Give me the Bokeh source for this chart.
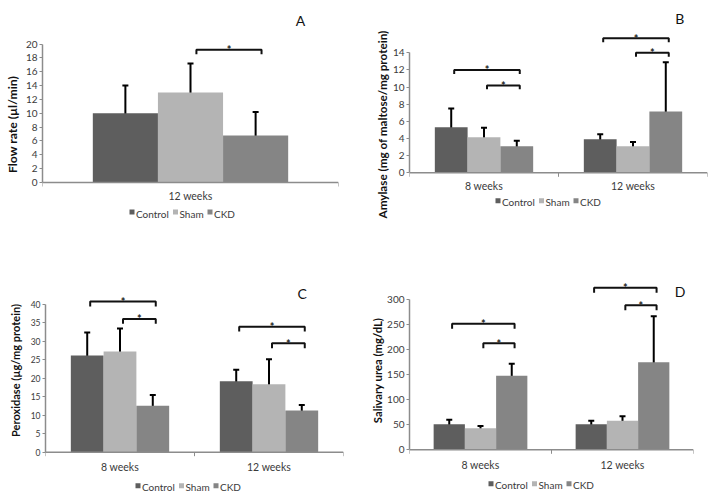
from bokeh.plotting import figure
from bokeh.layouts import column, row
from bokeh.models import (Range1d, FixedTicker, Label, ColumnDataSource, Whisker, TeeHead)
from bokeh.core.properties import value
from bokeh.embed import file_html
from bokeh.resources import INLINE

FONT = "Lato"
groups = ["Control", "Sham", "CKD"]
group_colors = ["#5e5e5e", "#b4b4b4", "#858585"]
legend_text_px = [33, 24, 20]   # approximate label widths, for legend spacing

# ---- Panel A : flow rate ----
a_categories = ["12 weeks"]
a_control = [10.0]
a_control_lo = [6.1]
a_control_hi = [14.0]
a_sham = [13.0]
a_sham_lo = [8.8]
a_sham_hi = [17.2]
a_ckd = [6.8]
a_ckd_lo = [3.2]
a_ckd_hi = [10.2]
a_yticks = [0, 2, 4, 6, 8, 10, 12, 14, 16, 18, 20]
a_sig = [(0, 1, 2, 19.2)]

# ---- Panel B : amylase ----
b_categories = ["8 weeks", "12 weeks"]
b_control = [5.3, 3.9]
b_control_lo = [3.1, 3.2]
b_control_hi = [7.5, 4.5]
b_sham = [4.15, 3.1]
b_sham_lo = [3.0, 2.6]
b_sham_hi = [5.25, 3.6]
b_ckd = [3.1, 7.15]
b_ckd_lo = [2.4, 1.4]
b_ckd_hi = [3.75, 12.9]
b_yticks = [0, 2, 4, 6, 8, 10, 12, 14]
b_sig = [(0, 0, 2, 12.0), (0, 1, 2, 10.2), (1, 0, 2, 15.7), (1, 1, 2, 14.0)]

# ---- Panel C : peroxidase ----
c_categories = ["8 weeks", "12 weeks"]
c_control = [26.2, 19.2]
c_control_lo = [20.2, 16.1]
c_control_hi = [32.4, 22.3]
c_sham = [27.3, 18.4]
c_sham_lo = [21.1, 11.6]
c_sham_hi = [33.5, 25.2]
c_ckd = [12.6, 11.3]
c_ckd_lo = [9.5, 10.0]
c_ckd_hi = [15.5, 12.8]
c_yticks = [0, 5, 10, 15, 20, 25, 30, 35, 40]
c_sig = [(0, 0, 2, 40.8), (0, 1, 2, 36.1), (1, 0, 2, 34.0), (1, 1, 2, 29.5)]

# ---- Panel D : salivary urea ----
d_categories = ["8 weeks", "12 weeks"]
d_control = [51, 51]
d_control_lo = [41, 44]
d_control_hi = [60, 58]
d_sham = [43, 58]
d_sham_lo = [38.5, 50]
d_sham_hi = [47.5, 67]
d_ckd = [148, 175]
d_ckd_lo = [124, 80]
d_ckd_hi = [172, 267]
d_yticks = [0, 50, 100, 150, 200, 250, 300]
d_sig = [(0, 0, 2, 252), (0, 1, 2, 213), (1, 0, 2, 324), (1, 1, 2, 289)]

BAR_W = 0.22
SIG_SHIFT = 0.02
AXIS_COLOR = "#8c8c8c"
TEXT_COLOR = "#3a3a3a"


def panel(cats, means, los, his, yticks, sig, ylabel, ylab_size, ylab_standoff, letter,
          w, h, b_left, b_right, zero_px, ppu, tick_size,
          letter_xy, cat_dy, leg_dx, leg_dy):
    """zero_px: distance of value 0 from the canvas top (px); ppu: pixels per unit."""
    n = len(cats)
    ymax = yticks[-1]
    fw = w - b_left - b_right
    dpx = n / fw                      # x data units per pixel
    y_end = zero_px / ppu
    y_start = -(h - zero_px) / ppu
    p = figure(width=w, height=h, x_range=Range1d(0, n), y_range=Range1d(y_start, y_end),
               output_backend="svg", toolbar_location=None, x_axis_location=None,
               min_border_left=b_left, min_border_right=b_right,
               min_border_top=0, min_border_bottom=0)
    p.outline_line_color = None
    p.xgrid.visible = False
    p.ygrid.visible = False

    for g in range(3):
        xs = [i + 0.5 + (g - 1) * BAR_W for i in range(n)]
        src = ColumnDataSource(dict(x=xs, top=means[g], lo=los[g], hi=his[g]))
        p.vbar(x="x", top="top", bottom=0, width=BAR_W, source=src,
               fill_color=group_colors[g], line_color=None)
        p.add_layout(Whisker(base="x", lower="lo", upper="hi", source=src,
                             line_color="black", line_width=2,
                             upper_head=TeeHead(size=6, line_width=2, line_color="black"),
                             lower_head=TeeHead(size=6, line_width=2, line_color="black")))

    # significance brackets
    leg = 0.033 * ymax
    bxs, bys, sx, sy = [], [], [], []
    for (c, g1, g2, yv) in sig:
        x1 = c + 0.5 + (g1 - 1) * BAR_W + SIG_SHIFT
        x2 = c + 0.5 + (g2 - 1) * BAR_W + SIG_SHIFT
        bxs.append([x1, x1, x2, x2])
        bys.append([yv - leg, yv, yv, yv - leg])
        sx.append((x1 + x2) / 2)
        sy.append(yv)
    p.multi_line(xs=bxs, ys=bys, line_color="#111111", line_width=2)
    p.text(x=sx, y=sy, text=["*"] * len(sx), text_font=value(FONT),
           text_font_size="11px", text_font_style="bold", text_align="center",
           text_baseline="alphabetic", text_color="#222222")

    # y axis (line limited to the value range)
    ya = p.yaxis[0]
    ya.ticker = FixedTicker(ticks=yticks)
    ya.bounds = (0, ymax)
    ya.axis_line_color = AXIS_COLOR
    ya.axis_line_width = 1.5
    ya.major_tick_line_color = AXIS_COLOR
    ya.major_tick_out = 3
    ya.major_tick_in = 0
    ya.minor_tick_line_color = None
    ya.major_label_standoff = 2
    ya.major_label_text_font = FONT
    ya.major_label_text_font_size = tick_size
    ya.major_label_text_color = TEXT_COLOR
    ya.axis_label = ylabel
    ya.axis_label_text_font = FONT
    ya.axis_label_text_font_style = "bold"
    ya.axis_label_text_font_size = ylab_size
    ya.axis_label_text_color = "#111111"
    ya.axis_label_standoff = ylab_standoff

    # category (x) axis at value 0
    bounds = list(range(n + 1))
    p.segment(x0=[0], y0=[0], x1=[n], y1=[0], line_color=AXIS_COLOR, line_width=1.5)
    p.segment(x0=bounds, y0=[0] * len(bounds), x1=bounds, y1=[-4 / ppu] * len(bounds),
              line_color=AXIS_COLOR, line_width=1)
    p.text(x=[i + 0.5 for i in range(n)], y=[-cat_dy / ppu] * n, text=cats,
           text_font=value(FONT), text_font_size="10.5px", text_align="center",
           text_baseline="middle", text_color=TEXT_COLOR)

    # legend row below the category labels
    lx = leg_dx
    sq_x, sq_y, tx, ty = [], [], [], []
    for g in range(3):
        sq_x.append((lx + 2.5) * dpx)
        sq_y.append(-(leg_dy - 1.5) / ppu)
        tx.append((lx + 6.5) * dpx)
        ty.append(-leg_dy / ppu)
        lx += 6.5 + legend_text_px[g] + 4
    p.scatter(x=sq_x, y=sq_y, marker="square", size=5, color=group_colors, line_color=None)
    p.text(x=tx, y=ty, text=groups, text_font=value(FONT), text_font_size="10px",
           text_align="left", text_baseline="middle", text_color=TEXT_COLOR)

    p.add_layout(Label(x=letter_xy[0], y=letter_xy[1], text=letter,
                       text_font=FONT, text_font_size="14px",
                       text_align="center", text_baseline="alphabetic",
                       text_color="#111111"))
    return p


pa = panel(a_categories, [a_control, a_sham, a_ckd],
           [a_control_lo, a_sham_lo, a_ckd_lo], [a_control_hi, a_sham_hi, a_ckd_hi],
           a_yticks, a_sig, "Flow rate (µl/min)", "12.2px", 3, "A",
           360, 248, 42, 22, 182, 6.92, "10px",
           (0.872, 23.4), 13, 87, 31)
pb = panel(b_categories, [b_control, b_sham, b_ckd],
           [b_control_lo, b_sham_lo, b_ckd_lo], [b_control_hi, b_sham_hi, b_ckd_hi],
           b_yticks, b_sig, "Amylase (mg of maltose/mg protein)", "11.7px", 1, "B",
           348, 248, 49, 1, 172.3, 8.571, "10px",
           (1.814, 18.0), 12.7, 86, 29.4)
pc = panel(c_categories, [c_control, c_sham, c_ckd],
           [c_control_lo, c_sham_lo, c_ckd_lo], [c_control_hi, c_sham_hi, c_ckd_hi],
           c_yticks, c_sig, "Peroxidase (µg/mg protein)", "11px", 6, "C",
           360, 244, 45, 17, 203.7, 3.6925, "8.5px",
           (1.722, 42.9), 14.3, 90, 35)
pd = panel(d_categories, [d_control, d_sham, d_ckd],
           [d_control_lo, d_sham_lo, d_ckd_lo], [d_control_hi, d_sham_hi, d_ckd_hi],
           d_yticks, d_sig, "Salivary urea (mg/dL)", "11.3px", 0, "D",
           348, 244, 49, 15, 201.3, 0.5, "10px",
           (1.906, 317), 15, 79, 35.5)

layout = column(row(pa, pb), row(pc, pd))
open("out.html", "w").write(file_html(layout, INLINE))
